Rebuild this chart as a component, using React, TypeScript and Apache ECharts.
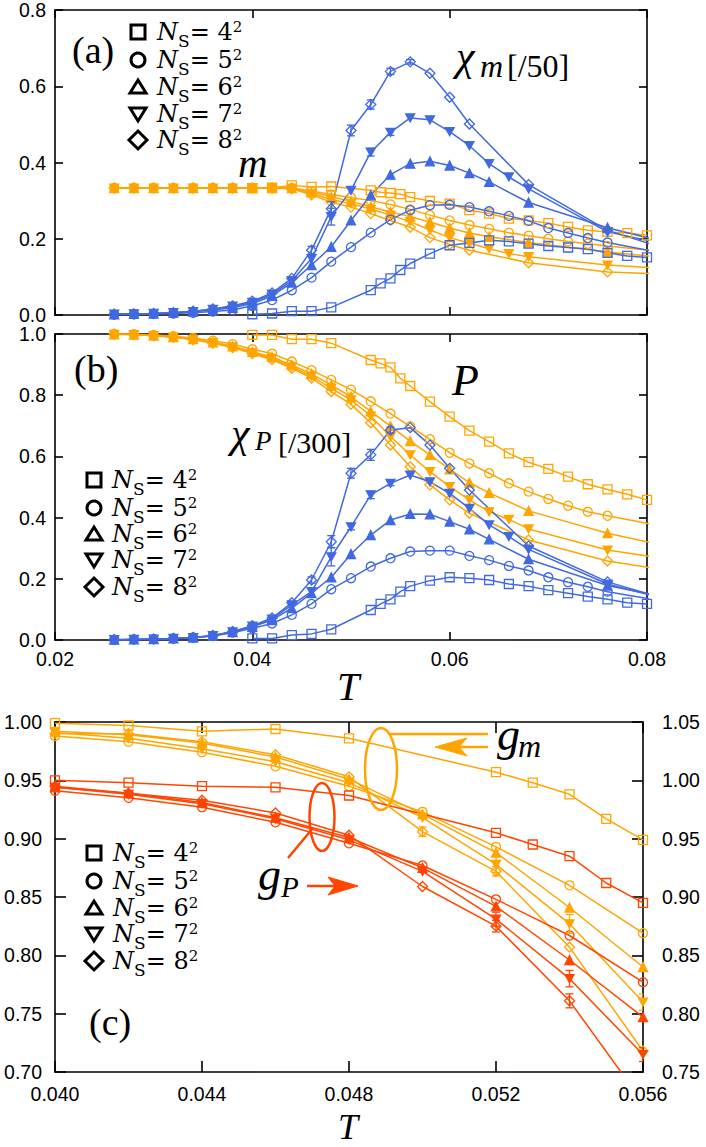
import React, { useEffect, useRef } from "react";
import * as echarts from "echarts";

const BLUE = "#4169E1";
const ORANGE = "#FFA500";
const RED = "#FF4500";
const SERIF = "'Liberation Serif', 'DejaVu Serif', serif";
const LEG_SERIF = "'DejaVu Serif', 'Liberation Serif', serif";
const SANS = "'Liberation Sans', Arial, sans-serif";

const NS_LABELS = ["4", "5", "6", "7", "8"];

// ---------- panel (a)/(b) temperature grids per system size ----------
const T4 = [0.040, 0.042, 0.044, 0.046, 0.048, 0.052, 0.053, 0.054, 0.055, 0.056, 0.058, 0.060, 0.062, 0.064, 0.066, 0.068, 0.070, 0.072, 0.074, 0.076, 0.078, 0.080];
const T5 = [0.026, 0.028, 0.030, 0.032, 0.034, 0.036, 0.038, 0.040, 0.042, 0.044, 0.046, 0.048, 0.050, 0.052, 0.054, 0.056, 0.058, 0.060, 0.062, 0.064, 0.066, 0.068, 0.070, 0.072, 0.074, 0.076, 0.084];
const T6 = [0.026, 0.028, 0.030, 0.032, 0.034, 0.036, 0.038, 0.040, 0.042, 0.044, 0.046, 0.048, 0.050, 0.052, 0.054, 0.056, 0.058, 0.060, 0.062, 0.064, 0.068, 0.076, 0.084];
const T7 = [0.026, 0.028, 0.030, 0.032, 0.034, 0.036, 0.038, 0.040, 0.042, 0.044, 0.046, 0.048, 0.050, 0.052, 0.054, 0.056, 0.058, 0.060, 0.062, 0.064, 0.066, 0.068, 0.076, 0.084];
const T8 = [0.026, 0.028, 0.030, 0.032, 0.034, 0.036, 0.038, 0.040, 0.042, 0.044, 0.046, 0.048, 0.050, 0.052, 0.054, 0.056, 0.058, 0.060, 0.062, 0.068, 0.076, 0.084];

// m (orange, panel a)
const m4 = [0.333, 0.334, 0.340, 0.336, 0.337, 0.327, 0.322, 0.320, 0.317, 0.309, 0.299, 0.292, 0.275, 0.266, 0.253, 0.248, 0.241, 0.231, 0.222, 0.218, 0.215, 0.209];
const m5 = [0.333, 0.333, 0.333, 0.333, 0.333, 0.333, 0.333, 0.333, 0.333, 0.333, 0.325, 0.316, 0.308, 0.300, 0.290, 0.277, 0.262, 0.248, 0.236, 0.226, 0.216, 0.208, 0.200, 0.193, 0.187, 0.181, 0.160];
const m6 = [0.333, 0.333, 0.333, 0.333, 0.333, 0.333, 0.333, 0.333, 0.333, 0.333, 0.322, 0.310, 0.298, 0.284, 0.270, 0.258, 0.244, 0.228, 0.215, 0.205, 0.190, 0.165, 0.145];
const m7 = [0.333, 0.333, 0.333, 0.333, 0.333, 0.333, 0.333, 0.333, 0.333, 0.332, 0.318, 0.303, 0.292, 0.278, 0.262, 0.245, 0.223, 0.203, 0.188, 0.174, 0.161, 0.153, 0.131, 0.119];
const m8 = [0.333, 0.333, 0.333, 0.333, 0.333, 0.333, 0.333, 0.333, 0.333, 0.331, 0.315, 0.296, 0.283, 0.266, 0.248, 0.230, 0.203, 0.185, 0.170, 0.137, 0.113, 0.105];

// chi_m / 50 (blue, panel a)
const chim4 = [0.002, 0.004, 0.010, 0.010, 0.020, 0.065, 0.083, 0.096, 0.118, 0.135, 0.161, 0.183, 0.189, 0.196, 0.193, 0.187, 0.181, 0.177, 0.173, 0.163, 0.155, 0.151];
const chim5 = [0.001, 0.002, 0.003, 0.004, 0.006, 0.009, 0.013, 0.024, 0.039, 0.065, 0.098, 0.140, 0.178, 0.216, 0.250, 0.275, 0.288, 0.289, 0.283, 0.272, 0.260, 0.247, 0.228, 0.215, 0.202, 0.190, 0.150];
const chim6 = [0.002, 0.003, 0.004, 0.006, 0.009, 0.013, 0.019, 0.030, 0.050, 0.085, 0.131, 0.179, 0.248, 0.314, 0.368, 0.397, 0.403, 0.392, 0.372, 0.349, 0.295, 0.229, 0.177];
const chim7 = [0.002, 0.003, 0.004, 0.006, 0.009, 0.015, 0.023, 0.033, 0.055, 0.090, 0.148, 0.258, 0.327, 0.427, 0.479, 0.517, 0.512, 0.481, 0.444, 0.397, 0.362, 0.331, 0.218, 0.174];
const chim8 = [0.002, 0.003, 0.004, 0.006, 0.010, 0.016, 0.024, 0.036, 0.058, 0.096, 0.170, 0.279, 0.484, 0.552, 0.639, 0.664, 0.634, 0.571, 0.501, 0.342, 0.222, 0.156];

// P (orange, panel b)
const P4 = [0.997, 0.997, 0.983, 0.983, 0.970, 0.915, 0.904, 0.891, 0.855, 0.830, 0.779, 0.730, 0.684, 0.648, 0.610, 0.581, 0.559, 0.534, 0.509, 0.492, 0.476, 0.458];
const P5 = [1.000, 0.999, 0.997, 0.993, 0.987, 0.978, 0.967, 0.950, 0.936, 0.910, 0.882, 0.850, 0.818, 0.780, 0.740, 0.698, 0.656, 0.612, 0.577, 0.545, 0.512, 0.485, 0.461, 0.439, 0.419, 0.406, 0.356];
const P6 = [0.999, 0.998, 0.995, 0.990, 0.983, 0.973, 0.960, 0.942, 0.925, 0.898, 0.870, 0.833, 0.795, 0.747, 0.699, 0.650, 0.605, 0.558, 0.514, 0.481, 0.422, 0.349, 0.293];
const P7 = [0.999, 0.998, 0.995, 0.990, 0.982, 0.972, 0.958, 0.939, 0.920, 0.893, 0.862, 0.822, 0.785, 0.732, 0.665, 0.605, 0.550, 0.501, 0.458, 0.419, 0.394, 0.363, 0.294, 0.256];
const P8 = [0.999, 0.998, 0.994, 0.989, 0.981, 0.970, 0.956, 0.936, 0.916, 0.888, 0.856, 0.812, 0.770, 0.710, 0.637, 0.566, 0.507, 0.458, 0.414, 0.327, 0.258, 0.218];

// chi_P / 300 (blue, panel b)
const chiP4 = [0.005, 0.005, 0.016, 0.020, 0.035, 0.098, 0.118, 0.133, 0.158, 0.176, 0.194, 0.205, 0.202, 0.196, 0.183, 0.176, 0.163, 0.153, 0.142, 0.133, 0.122, 0.118];
const chiP5 = [0.001, 0.002, 0.003, 0.005, 0.008, 0.013, 0.024, 0.038, 0.054, 0.082, 0.118, 0.166, 0.202, 0.240, 0.267, 0.289, 0.292, 0.292, 0.275, 0.261, 0.242, 0.227, 0.205, 0.189, 0.174, 0.158, 0.114];
const chiP6 = [0.001, 0.002, 0.003, 0.005, 0.008, 0.014, 0.026, 0.043, 0.065, 0.104, 0.153, 0.205, 0.281, 0.343, 0.392, 0.412, 0.411, 0.387, 0.362, 0.329, 0.264, 0.178, 0.126];
const chiP7 = [0.001, 0.002, 0.003, 0.005, 0.008, 0.014, 0.027, 0.045, 0.068, 0.115, 0.158, 0.272, 0.370, 0.474, 0.512, 0.539, 0.517, 0.479, 0.430, 0.376, 0.338, 0.296, 0.183, 0.116];
const chiP8 = [0.001, 0.002, 0.003, 0.005, 0.008, 0.015, 0.028, 0.047, 0.072, 0.122, 0.196, 0.321, 0.545, 0.605, 0.686, 0.694, 0.637, 0.561, 0.490, 0.307, 0.190, 0.115];

// ---------- panel (c) ----------
const Tc4 = [0.040, 0.042, 0.044, 0.046, 0.048, 0.052, 0.053, 0.054, 0.055, 0.056];
const Tc = [0.040, 0.042, 0.044, 0.046, 0.048, 0.050, 0.052, 0.054, 0.056];
const gm4 = [0.999, 0.997, 0.992, 0.994, 0.986, 0.957, 0.948, 0.938, 0.917, 0.899];
const gm5 = [0.988, 0.983, 0.974, 0.962, 0.945, 0.923, 0.893, 0.860, 0.819];
const gm6 = [0.992, 0.989, 0.982, 0.970, 0.951, 0.921, 0.888, 0.841, 0.790];
const gm7 = [0.991, 0.986, 0.977, 0.966, 0.948, 0.918, 0.878, 0.827, 0.760];
const gm8 = [0.990, 0.990, 0.983, 0.972, 0.953, 0.906, 0.872, 0.807, 0.718];
const gP4 = [1.000, 0.998, 0.995, 0.994, 0.987, 0.955, 0.945, 0.935, 0.912, 0.895];
const gP5 = [0.991, 0.985, 0.977, 0.964, 0.946, 0.927, 0.898, 0.867, 0.827];
const gP6 = [0.994, 0.989, 0.981, 0.968, 0.951, 0.925, 0.892, 0.846, 0.797];
const gP7 = [0.994, 0.988, 0.980, 0.967, 0.949, 0.922, 0.881, 0.830, 0.765];
const gP8 = [0.995, 0.989, 0.983, 0.972, 0.953, 0.909, 0.875, 0.811, 0.724];

// error bars: [T, half-width]
const errChiM8 = [[0.046, 0.010], [0.048, 0.018], [0.050, 0.014], [0.052, 0.012], [0.054, 0.008], [0.056, 0.006]];
const errChiM7 = [[0.048, 0.022], [0.052, 0.010], [0.054, 0.008]];
const errChiP8 = [[0.046, 0.010], [0.048, 0.020], [0.050, 0.016], [0.052, 0.018], [0.054, 0.010]];
const errChiP7 = [[0.048, 0.030], [0.050, 0.010], [0.052, 0.012], [0.054, 0.008]];
const errGm7 = [[0.052, 0.007], [0.054, 0.008], [0.056, 0.007]];
const errGm8 = [[0.050, 0.004], [0.052, 0.004]];
const errGP7 = [[0.052, 0.006], [0.054, 0.007], [0.056, 0.006]];
const errGP8 = [[0.052, 0.005], [0.054, 0.006]];

const INV_TRI = "path://M0,0L10,0L5,8.66Z";
const SYMBOLS = ["rect", "circle", "triangle", INV_TRI, "diamond"];
const SYM_SIZE: any[] = [9, 9, 9, [9, 8], 10];

function lineSeries(T: number[], V: number[], k: number, color: string, xi: number, yi: number) {
  const filled = k === 2 || k === 3;
  return {
    type: "line",
    xAxisIndex: xi,
    yAxisIndex: yi,
    data: T.map((t, i) => [t, V[i]]),
    symbol: SYMBOLS[k],
    symbolSize: SYM_SIZE[k],
    showAllSymbol: true,
    clip: true,
    lineStyle: { color, width: 1.5 },
    itemStyle: { color: filled ? color : "rgba(255,255,255,0)", borderColor: color, borderWidth: 1.3 },
    z: 2,
  };
}

function errSeries(T: number[], V: number[], errs: number[][], color: string, xi: number, yi: number) {
  const data = errs.map(([t, e]) => {
    const i = T.findIndex((x) => Math.abs(x - t) < 1e-9);
    return [t, V[i] - e, V[i] + e];
  });
  return {
    type: "custom",
    xAxisIndex: xi,
    yAxisIndex: yi,
    clip: true,
    z: 3,
    encode: { x: 0, y: [1, 2] },
    data,
    renderItem: (_p: any, api: any) => {
      const x = api.value(0);
      const lo = api.coord([x, api.value(1)]);
      const hi = api.coord([x, api.value(2)]);
      const w = 4;
      const st = { stroke: color, lineWidth: 1.3, fill: "none" };
      return {
        type: "group",
        children: [
          { type: "line", shape: { x1: lo[0], y1: lo[1], x2: hi[0], y2: hi[1] }, style: st },
          { type: "line", shape: { x1: lo[0] - w, y1: lo[1], x2: lo[0] + w, y2: lo[1] }, style: st },
          { type: "line", shape: { x1: hi[0] - w, y1: hi[1], x2: hi[0] + w, y2: hi[1] }, style: st },
        ],
      };
    },
  };
}

function axis(grid: number, pos: string, show: boolean, min: number, max: number, interval: number, digits: number, tickLen: number, margin: number) {
  return {
    type: "value",
    gridIndex: grid,
    position: pos,
    min,
    max,
    interval,
    axisLine: { show: true, onZero: false, lineStyle: { color: "#000", width: 1.6 } },
    axisTick: { show: true, inside: true, length: tickLen, lineStyle: { color: "#000", width: 1.6 } },
    axisLabel: {
      show,
      margin,
      color: "#000",
      fontFamily: SANS,
      fontSize: 19.5,
      lineHeight: 14,
      formatter: (v: number) => v.toFixed(digits),
    },
    splitLine: { show: false },
  };
}

const RICH_NS = {
  n: { fontFamily: LEG_SERIF, fontStyle: "italic", fontSize: 24, lineHeight: 24, fill: "#000" },
  s: { fontFamily: LEG_SERIF, fontSize: 17, height: 6, lineHeight: 24, verticalAlign: "bottom", fill: "#000" },
  e: { fontFamily: LEG_SERIF, fontSize: 24, lineHeight: 24, fill: "#000" },
  p: { fontFamily: LEG_SERIF, fontSize: 15, height: 13, lineHeight: 24, verticalAlign: "top", fill: "#000" },
};

function symbolEl(k: number, cx: number, cy: number) {
  const style = { fill: "none", stroke: "#000", lineWidth: 3 };
  if (k === 0) return { type: "rect", shape: { x: cx - 7, y: cy - 7, width: 14, height: 14 }, style, z: 100 };
  if (k === 1) return { type: "circle", shape: { cx, cy, r: 7 }, style, z: 100 };
  if (k === 2) return { type: "polygon", shape: { points: [[cx, cy - 7], [cx + 8, cy + 6], [cx - 8, cy + 6]] }, style, z: 100 };
  if (k === 3) return { type: "polygon", shape: { points: [[cx - 8, cy - 6], [cx + 8, cy - 6], [cx, cy + 7]] }, style, z: 100 };
  return { type: "polygon", shape: { points: [[cx, cy - 9], [cx + 9, cy], [cx, cy + 9], [cx - 9, cy]] }, style, z: 100 };
}

function legend(sx: number, tx: number, ys: number[]) {
  const els: any[] = [];
  ys.forEach((cy, i) => {
    els.push(symbolEl(i, sx, cy));
    els.push({
      type: "text",
      z: 100,
      style: {
        x: tx,
        y: cy,
        text: `{n|N}{s|S}{e|= ${NS_LABELS[i]}}{p|2}`,
        textVerticalAlign: "middle",
        rich: RICH_NS,
      },
    });
  });
  return els;
}

function txt(x: number, y: number, text: string, size: number, italic: boolean) {
  return {
    type: "text",
    z: 100,
    style: {
      x,
      y,
      text,
      fontFamily: SERIF,
      fontSize: size,
      fontStyle: italic ? "italic" : "normal",
      fill: "#000",
      textVerticalAlign: "middle",
    },
  };
}

function buildOption() {
  const series: any[] = [];
  const Ts = [T4, T5, T6, T7, T8];
  const ms = [m4, m5, m6, m7, m8];
  const chims = [chim4, chim5, chim6, chim7, chim8];
  const Ps = [P4, P5, P6, P7, P8];
  const chiPs = [chiP4, chiP5, chiP6, chiP7, chiP8];
  for (let k = 0; k < 5; k++) series.push(lineSeries(Ts[k], ms[k], k, ORANGE, 0, 0));
  for (let k = 0; k < 5; k++) series.push(lineSeries(Ts[k], chims[k], k, BLUE, 0, 0));
  for (let k = 0; k < 5; k++) series.push(lineSeries(Ts[k], Ps[k], k, ORANGE, 2, 2));
  for (let k = 0; k < 5; k++) series.push(lineSeries(Ts[k], chiPs[k], k, BLUE, 2, 2));
  series.push(errSeries(T8, chim8, errChiM8, BLUE, 0, 0));
  series.push(errSeries(T7, chim7, errChiM7, BLUE, 0, 0));
  series.push(errSeries(T8, chiP8, errChiP8, BLUE, 2, 2));
  series.push(errSeries(T7, chiP7, errChiP7, BLUE, 2, 2));

  const Tcs = [Tc4, Tc, Tc, Tc, Tc];
  const gms = [gm4, gm5, gm6, gm7, gm8];
  const gPs = [gP4, gP5, gP6, gP7, gP8];
  for (let k = 0; k < 5; k++) series.push(lineSeries(Tcs[k], gms[k], k, ORANGE, 4, 4));
  for (let k = 0; k < 5; k++) series.push(lineSeries(Tcs[k], gPs[k], k, RED, 4, 5));
  series.push(errSeries(Tc, gm7, errGm7, ORANGE, 4, 4));
  series.push(errSeries(Tc, gm8, errGm8, ORANGE, 4, 4));
  series.push(errSeries(Tc, gP7, errGP7, RED, 4, 5));
  series.push(errSeries(Tc, gP8, errGP8, RED, 4, 5));

  const graphic: any[] = [
    txt(72, 50, "(a)", 38, false),
    txt(74, 369, "(b)", 38, false),
    txt(89, 1022, "(c)", 38, false),
    txt(238, 163, "m", 41, true),
    txt(456, 56, "χ", 42, true),
    txt(480, 66, "m", 32, true),
    txt(507, 66, "[/50]", 32, false),
    txt(231, 433, "χ", 42, true),
    txt(255, 441, "P", 27, true),
    txt(278, 442, "[/300]", 30, false),
    txt(452, 380, "P", 44, true),
    txt(337, 686, "T", 40, true),
    txt(338, 1127, "T", 36, true),
    txt(497, 734, "g", 46, true),
    txt(518, 746, "m", 32, true),
    txt(258, 874, "g", 46, true),
    txt(281, 887, "P", 29, true),
    // g_m annotation
    { type: "ellipse", z: 90, shape: { cx: 381, cy: 769, rx: 16, ry: 41 }, style: { fill: "none", stroke: ORANGE, lineWidth: 2.5 } },
    { type: "line", z: 90, shape: { x1: 390, y1: 734, x2: 488, y2: 734 }, style: { stroke: ORANGE, lineWidth: 2.5 } },
    { type: "line", z: 90, shape: { x1: 458, y1: 747, x2: 488, y2: 747 }, style: { stroke: ORANGE, lineWidth: 2.5 } },
    { type: "polygon", z: 90, shape: { points: [[435, 747], [467, 738], [459, 747], [467, 756]] }, style: { fill: ORANGE, stroke: ORANGE, lineWidth: 1 } },
    // g_P annotation
    { type: "ellipse", z: 90, shape: { cx: 322, cy: 817, rx: 12.5, ry: 34 }, style: { fill: "none", stroke: RED, lineWidth: 2.5 } },
    { type: "line", z: 90, shape: { x1: 288, y1: 858, x2: 313, y2: 828 }, style: { stroke: RED, lineWidth: 2.5 } },
    { type: "line", z: 90, shape: { x1: 307, y1: 886, x2: 336, y2: 886 }, style: { stroke: RED, lineWidth: 2.5 } },
    { type: "polygon", z: 90, shape: { points: [[358, 886], [328, 877], [335, 886], [328, 895]] }, style: { fill: RED, stroke: RED, lineWidth: 1 } },
    ...legend(138, 157, [32, 60, 87, 114, 140]),
    ...legend(94, 112, [480, 508, 534, 560, 587]),
    ...legend(94, 113, [853, 881, 908, 934, 961]),
  ];

  return {
    animation: false,
    backgroundColor: "#fff",
    grid: [
      { left: 55, top: 9, width: 592, height: 306 },
      { left: 55, top: 334, width: 592, height: 306 },
      { left: 55, top: 722, width: 588, height: 350 },
    ],
    xAxis: [
      axis(0, "bottom", false, 0.02, 0.08, 0.02, 2, 8, 8),
      axis(0, "top", false, 0.02, 0.08, 0.02, 2, 8, 8),
      axis(1, "bottom", true, 0.02, 0.08, 0.02, 2, 8, 12),
      axis(1, "top", false, 0.02, 0.08, 0.02, 2, 8, 8),
      axis(2, "bottom", true, 0.04, 0.056, 0.004, 3, 11, 15),
      axis(2, "top", false, 0.04, 0.056, 0.004, 3, 11, 8),
    ],
    yAxis: [
      axis(0, "left", true, 0, 0.8, 0.2, 1, 8, 9),
      axis(0, "right", false, 0, 0.8, 0.2, 1, 8, 8),
      axis(1, "left", true, 0, 1.0, 0.2, 1, 8, 9),
      axis(1, "right", false, 0, 1.0, 0.2, 1, 8, 8),
      axis(2, "left", true, 0.7, 1.0, 0.05, 2, 11, 13),
      axis(2, "right", true, 0.75, 1.05, 0.05, 2, 11, 19),
    ],
    series,
    graphic,
  };
}

export default function App() {
  const ref = useRef<HTMLDivElement>(null);
  useEffect(() => {
    if (!ref.current) return;
    const chart = echarts.init(ref.current, undefined, { renderer: "svg" });
    chart.setOption(buildOption() as any);
    return () => chart.dispose();
  }, []);
  return (
    <div
      ref={ref}
      style={{ position: "fixed", left: 0, top: 0, width: 706, height: 1147, background: "#fff" }}
    />
  );
}
